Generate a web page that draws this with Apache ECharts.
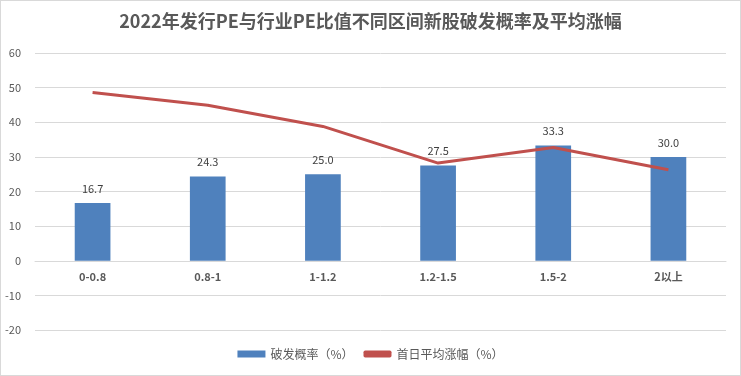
<!DOCTYPE html>
<html>
<head>
<meta charset="utf-8">
<script src="https://cdn.jsdelivr.net/npm/echarts@6/dist/echarts.min.js"></script>
<style>
  html, body { margin: 0; padding: 0; background: #fff; }
  #chart { width: 739px; height: 374px; border: 1px solid #d9d9d9; }
</style>
</head>
<body>
<div id="chart"></div>
<script>
  // 区间分类
  const categories = ['0-0.8', '0.8-1', '1-1.2', '1.2-1.5', '1.5-2', '2以上'];
  // 破发概率（%）
  const breakRate = [16.7, 24.3, 25.0, 27.5, 33.3, 30.0];
  // 首日平均涨幅（%）
  const avgRise = [48.6, 44.9, 38.8, 28.2, 32.7, 26.3];

  const textColor = '#595959';
  const yMin = -20, yMax = 60;
  const gridTop = 52, gridBottom = 45;
  const el = document.getElementById('chart');
  // x轴标签放在0刻度线下方
  const gridH = el.clientHeight - gridTop - gridBottom;
  const zeroOffset = -gridH * (0 - yMin) / (yMax - yMin);

  const chart = echarts.init(el);
  chart.setOption({
    animation: false,
    textStyle: { fontFamily: '"Noto Sans CJK SC", sans-serif' },
    title: {
      text: '2022年发行PE与行业PE比值不同区间新股破发概率及平均涨幅',
      left: 'center',
      top: 6,
      textStyle: { fontSize: 18, fontWeight: 'bold', color: textColor }
    },
    legend: {
      bottom: 10,
      left: 'center',
      itemWidth: 28,
      itemHeight: 7,
      itemGap: 10,
      textStyle: { color: textColor, fontSize: 12 },
      data: [
        { name: '破发概率（%）', icon: 'rect' },
        { name: '首日平均涨幅（%）', icon: 'roundRect', itemStyle: { color: '#c0504d' } }
      ]
    },
    grid: { left: 34, right: 14, top: gridTop, bottom: gridBottom },
    xAxis: {
      type: 'category',
      data: categories,
      offset: zeroOffset,
      axisLine: { onZero: false, lineStyle: { color: '#d9d9d9' } },
      axisTick: { show: false },
      axisLabel: { color: textColor, fontSize: 11, fontWeight: 'bold', margin: 11 }
    },
    yAxis: {
      type: 'value',
      min: yMin,
      max: yMax,
      interval: 10,
      axisLine: { show: false },
      axisTick: { show: false },
      axisLabel: { color: textColor, fontSize: 11, margin: 14 },
      splitLine: { lineStyle: { color: '#d9d9d9' } }
    },
    series: [
      {
        name: '破发概率（%）',
        type: 'bar',
        data: breakRate,
        barWidth: '31%',
        itemStyle: { color: '#4f81bd' },
        label: {
          show: true,
          position: 'top',
          distance: 9,
          color: '#404040',
          fontSize: 11,
          formatter: p => p.value.toFixed(1)
        }
      },
      {
        name: '首日平均涨幅（%）',
        type: 'line',
        data: avgRise,
        symbol: 'none',
        lineStyle: { color: '#c0504d', width: 3 },
        itemStyle: { color: '#c0504d' }
      }
    ]
  });
</script>
</body>
</html>
